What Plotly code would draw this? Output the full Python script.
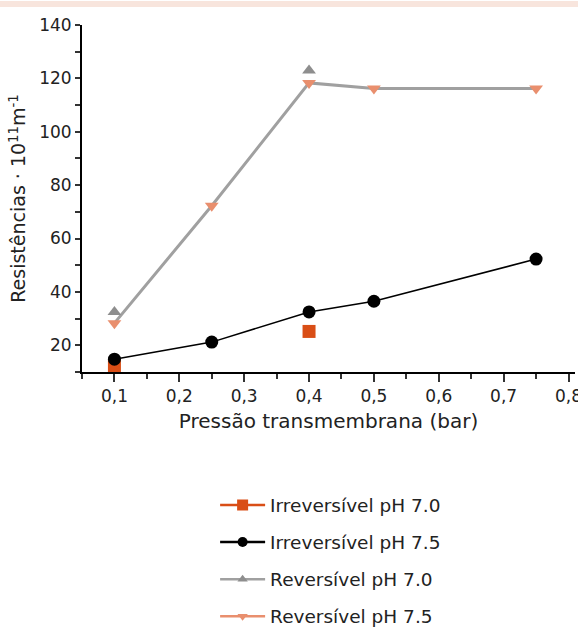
import plotly.graph_objects as go

# Data
irr70_x = [0.1, 0.4]
irr70_y = [12.3, 25.2]
irr75_x = [0.1, 0.25, 0.4, 0.5, 0.75]
irr75_y = [14.8, 21.2, 32.5, 36.5, 52.3]
rev70_x = [0.1, 0.4]
rev70_y = [32.5, 123.0]
rev75_x = [0.1, 0.25, 0.4, 0.5, 0.75]
rev75_y = [28.3, 72.3, 118.3, 116.2, 116.2]

names = ["Irreversível pH 7.0", "Irreversível pH 7.5", "Reversível pH 7.0", "Reversível pH 7.5"]
x_ticks = [0.1, 0.2, 0.3, 0.4, 0.5, 0.6, 0.7, 0.8]
y_ticks = [20, 40, 60, 80, 100, 120, 140]

C_ORANGE = "#D94E16"
C_BLACK = "#000000"
C_GREY = "#8E8E8E"
C_GREY_LINE = "#A0A0A0"
C_SALMON = "#E98F6E"
C_TEXT = "#222222"

FONT = "DejaVu Sans"

fig = go.Figure()

# plotted traces (no legend)
fig.add_trace(go.Scatter(x=irr70_x, y=irr70_y, mode="markers",
                         marker=dict(symbol="square", size=13, color=C_ORANGE),
                         showlegend=False))
fig.add_trace(go.Scatter(x=irr75_x, y=irr75_y, mode="lines+markers",
                         line=dict(color=C_BLACK, width=1.5),
                         marker=dict(symbol="circle", size=13, color=C_BLACK),
                         showlegend=False))
fig.add_trace(go.Scatter(x=rev75_x, y=rev75_y, mode="lines",
                         line=dict(color=C_GREY_LINE, width=3),
                         showlegend=False))
fig.add_trace(go.Scatter(x=rev70_x, y=rev70_y, mode="markers",
                         marker=dict(symbol="triangle-up", size=12, color=C_GREY),
                         showlegend=False))
fig.add_trace(go.Scatter(x=rev75_x, y=rev75_y, mode="markers",
                         marker=dict(symbol="triangle-down", size=12, color=C_SALMON),
                         showlegend=False))

# legend entries
leg_styles = [
    (C_ORANGE, "square", 11),
    (C_BLACK, "circle", 10),
    (C_GREY_LINE, "triangle-up", 9),
    (C_SALMON, "triangle-down", 9),
]
leg_marker_colors = [C_ORANGE, C_BLACK, C_GREY, C_SALMON]
for i, (nm, (lc, sym, sz)) in enumerate(zip(names, leg_styles)):
    fig.add_trace(go.Scatter(x=[None], y=[None], mode="lines+markers", name=nm,
                             legendgroup=f"g{i}",
                             line=dict(color=lc, width=2.5),
                             marker=dict(symbol=sym, size=sz, color=leg_marker_colors[i])))

fig.update_layout(
    width=578, height=628,
    margin=dict(l=82, r=3, t=25, b=256, autoexpand=False),
    paper_bgcolor="white", plot_bgcolor="white",
    separators=",.",
    font=dict(family=FONT, size=17, color=C_TEXT),
    showlegend=True,
    legend=dict(x=0.27, y=-0.33, xanchor="left", yanchor="top",
                font=dict(family=FONT, size=18.5, color=C_TEXT),
                itemwidth=45,
                tracegroupgap=10, bgcolor="rgba(0,0,0,0)"),
    shapes=[dict(type="rect", xref="paper", yref="paper",
                 x0=-0.2, x1=1.05, y0=1.052, y1=1.069,
                 fillcolor="#F8E5DD", line=dict(width=0), layer="below")],
)

fig.update_xaxes(
    range=[0.05, 0.81], tickvals=x_ticks, tickformat=".1f",
    automargin=False, ticklabeloverflow="allow",
    showgrid=False, zeroline=False,
    showline=True, linecolor="black", linewidth=2,
    ticks="outside", ticklen=8, tickwidth=1.5, tickcolor="#333333",
    minor=dict(dtick=0.05, tick0=0.05, ticks="outside", ticklen=5, tickwidth=1.5, tickcolor="#333333"),
    tickfont=dict(family=FONT, size=17, color=C_TEXT),
    title=dict(text="Pressão transmembrana (bar)", font=dict(family=FONT, size=20, color=C_TEXT),
               standoff=9),
)
fig.update_yaxes(
    range=[10, 140], tickvals=y_ticks,
    automargin=False,
    showgrid=False, zeroline=False,
    showline=True, linecolor="black", linewidth=2,
    ticks="outside", ticklen=5, tickwidth=1.5, tickcolor="#333333",
    minor=dict(dtick=10, tick0=0, ticks="outside", ticklen=5, tickwidth=1.5, tickcolor="#333333"),
    tickfont=dict(family=FONT, size=17, color=C_TEXT),
    title=dict(text="Resistências · 10<sup>11</sup>m<sup>-1</sup>",
               font=dict(family=FONT, size=19, color=C_TEXT), standoff=8),
)

fig.write_html("out.html", config={"displayModeBar": False},
               post_script="document.body.style.margin='0px';")
